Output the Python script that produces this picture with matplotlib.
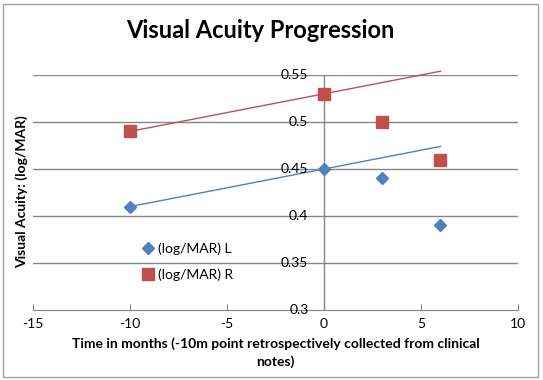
import matplotlib.pyplot as plt
import numpy as np
from matplotlib.patches import Rectangle

# data
months = [-10, 0, 3, 6]
logmar_left = [0.41, 0.45, 0.44, 0.39]
logmar_right = [0.49, 0.53, 0.50, 0.46]
x_ticks = [-15, -10, -5, 0, 5, 10]
y_ticks = [0.3, 0.35, 0.4, 0.45, 0.5, 0.55]

blue = '#4F81BD'
red = '#C0504D'
grid_col = '#868686'


def main():
    plt.rcParams['font.family'] = ['Lato', 'DejaVu Sans']
    fig = plt.figure(figsize=(5.43, 3.80), dpi=100)
    ax = fig.add_axes([33 / 543, 1 - 310 / 380, 485 / 543, 235 / 380])

    ax.set_xlim(-15, 10)
    ax.set_ylim(0.3, 0.55)

    # horizontal gridlines and the y axis at x = 0
    for y in y_ticks[1:]:
        ax.axhline(y, color=grid_col, lw=1, zorder=1)
    ax.axvline(0, color=grid_col, lw=1, zorder=1)
    for s in ['top', 'right', 'left']:
        ax.spines[s].set_visible(False)
    ax.spines['bottom'].set_color(grid_col)

    # linear trendlines (fitted on the first two points, extended to 6)
    xt = np.array([months[0], months[-1]])
    for ys, col in [(logmar_left, blue), (logmar_right, red)]:
        k, b = np.polyfit(months[:2], ys[:2], 1)
        ax.plot(xt, k * xt + b, color=col, lw=1, zorder=2, clip_on=False)

    ax.plot(months, logmar_left, 'D', color=blue, ms=6.5, label='(log/MAR) L',
            zorder=3, linestyle='none')
    ax.plot(months, logmar_right, 's', color=red, ms=8, label='(log/MAR) R',
            zorder=3, linestyle='none')

    ax.set_xticks(x_ticks)
    ax.set_xticklabels([str(t) for t in x_ticks], fontsize=10)
    ax.tick_params(axis='x', direction='in', length=4, color=grid_col, pad=6)
    ax.set_yticks([])
    for y in y_ticks:
        ax.text(-0.8, y, f'{y:g}', ha='right', va='center', fontsize=10,
                color='black', zorder=4)

    ax.set_xlabel('Time in months (-10m point retrospectively collected from clinical\nnotes)',
                  fontsize=10, fontweight='bold', labelpad=5, linespacing=1.55)
    fig.text(22 / 543, 1 - 192 / 380, 'Visual Acuity: (log/MAR)', rotation=90,
             ha='center', va='center', fontsize=10, fontweight='bold')
    fig.text(260 / 543, 1 - 31 / 380, 'Visual Acuity Progression', ha='center',
             va='center', fontsize=17, fontweight='bold')

    ax.legend(loc='center left', bbox_to_anchor=(0.2, 0.205), frameon=False,
              fontsize=10, handlelength=0.8, handletextpad=0.3, labelspacing=0.95)

    fig.patches.append(Rectangle((3 / 543, 3 / 380), 535 / 543, 373 / 380,
                                 transform=fig.transFigure, fill=False,
                                 edgecolor='#A0A0A0', lw=1))
    fig.savefig('out.png', dpi=100)


if __name__ == '__main__':
    main()
